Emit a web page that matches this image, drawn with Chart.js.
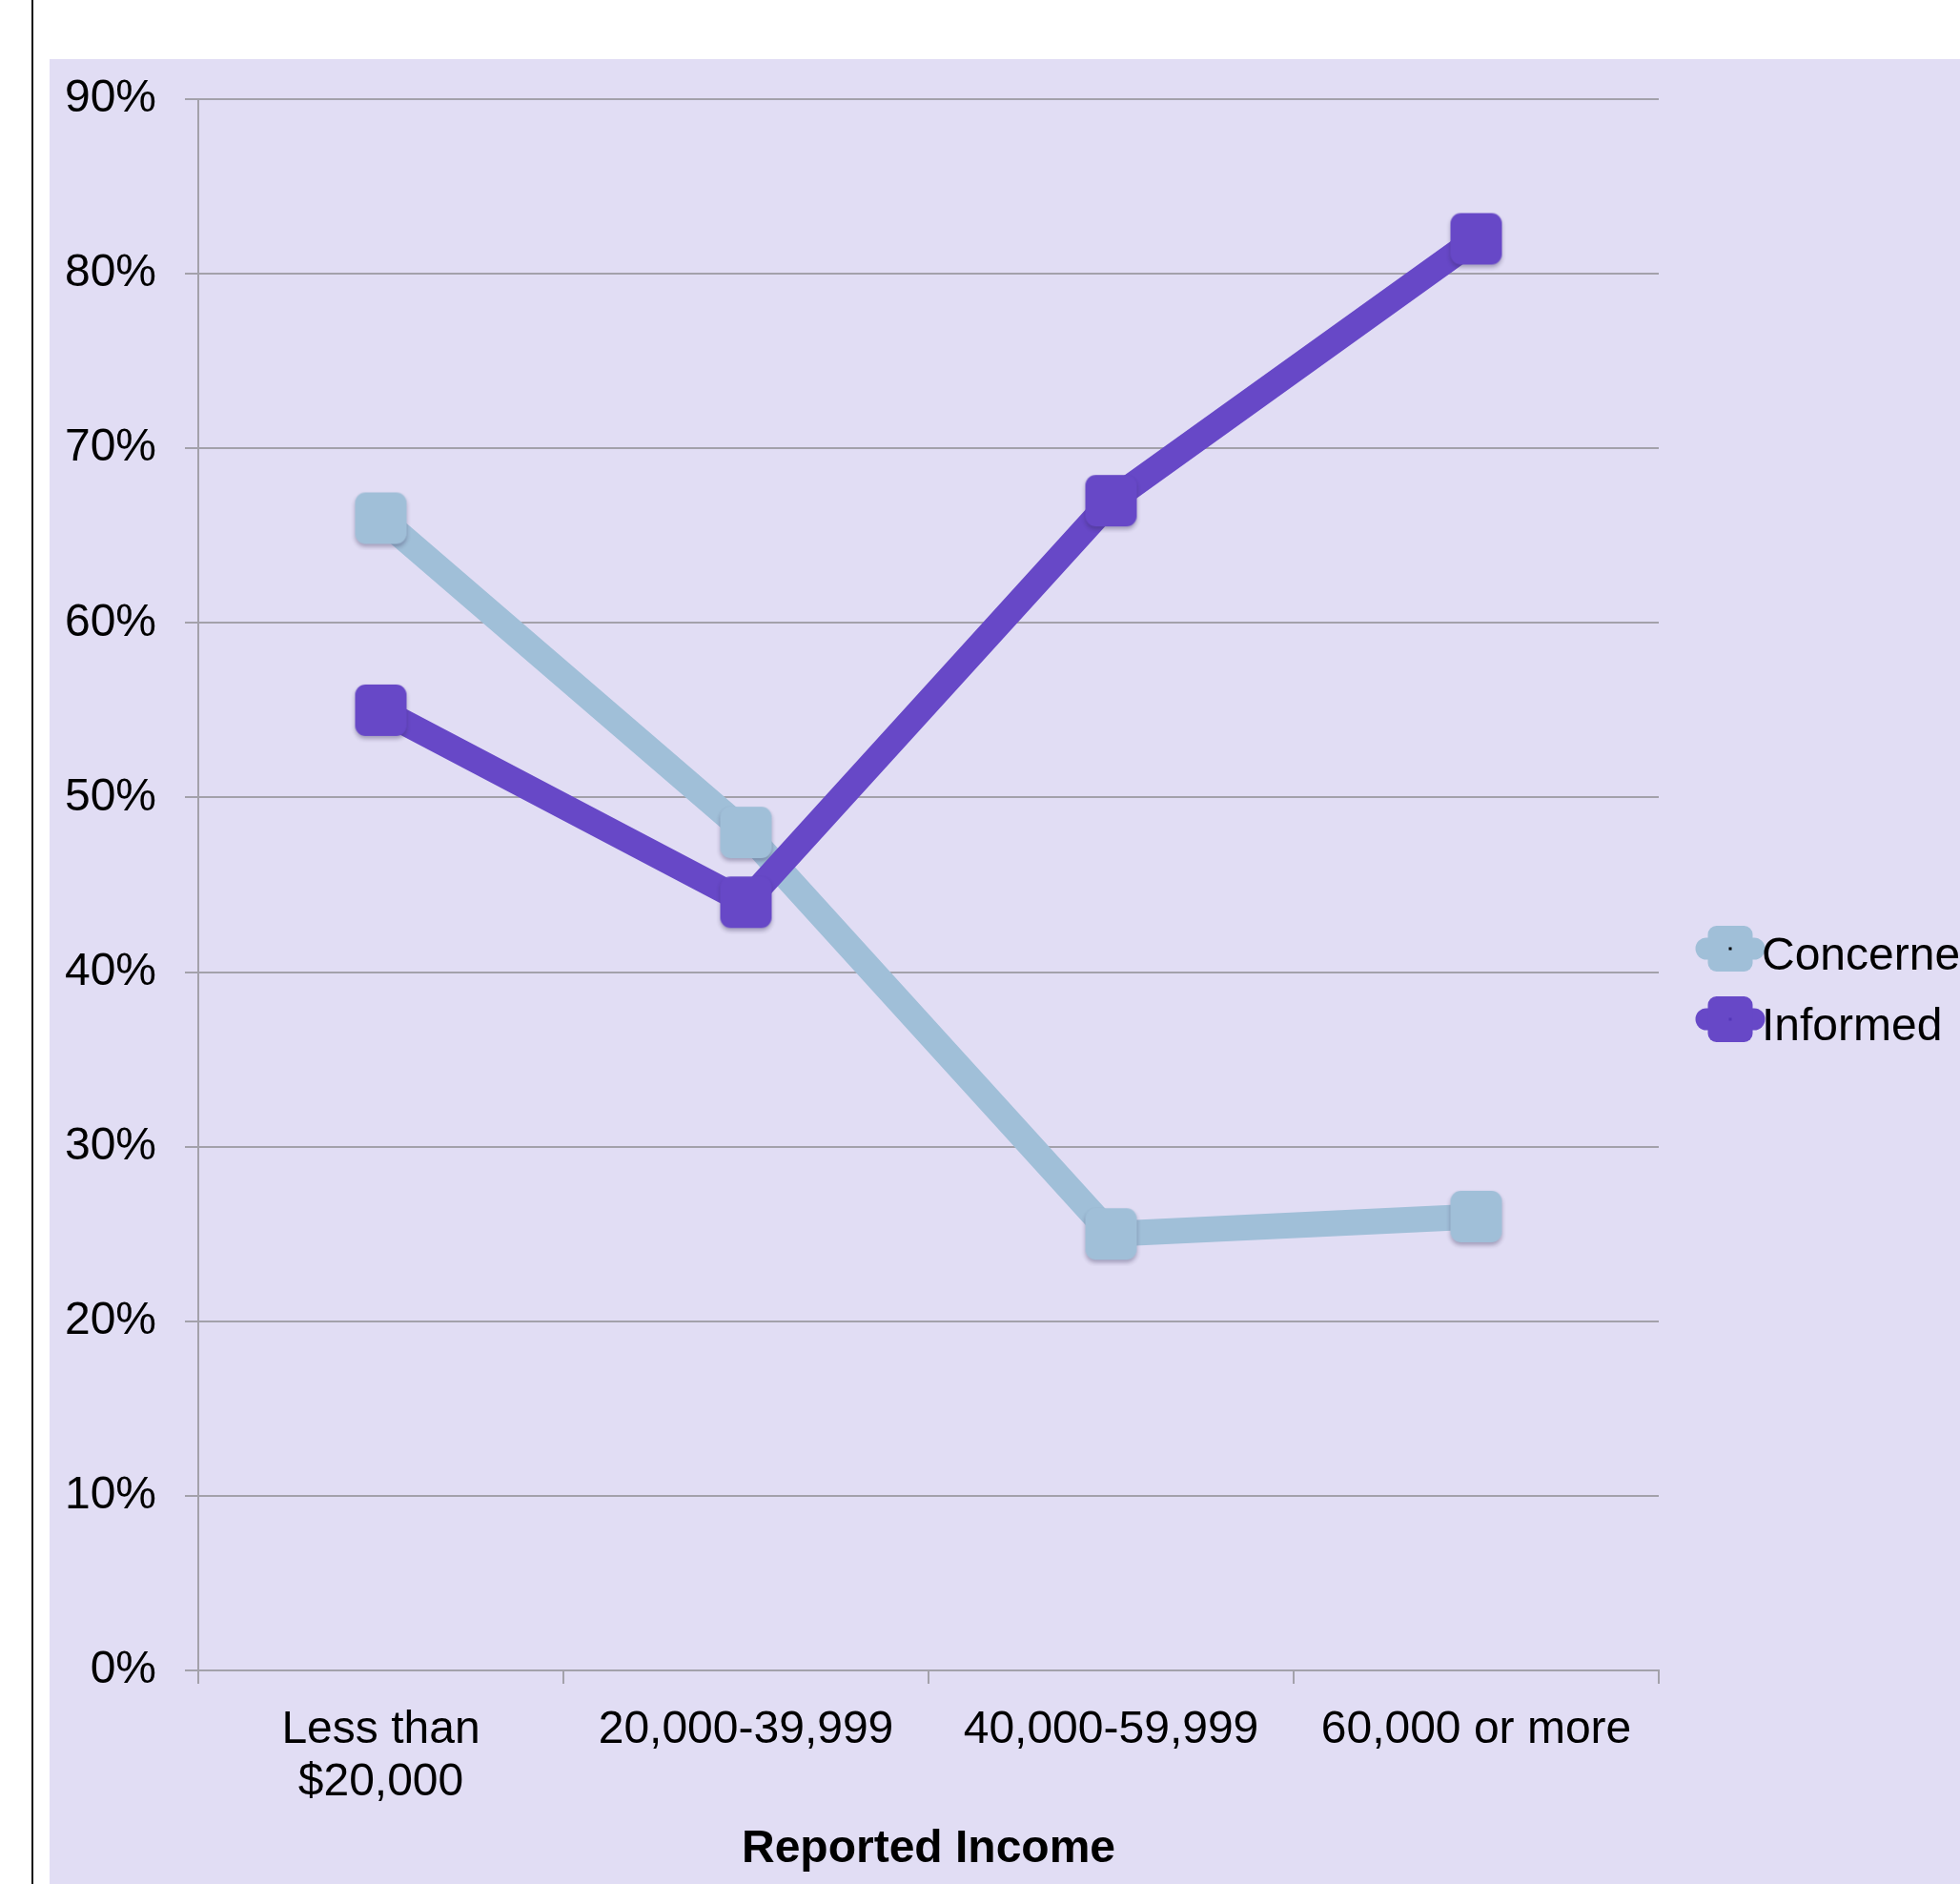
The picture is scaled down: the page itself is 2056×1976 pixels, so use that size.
<!DOCTYPE html>
<html>
<head>
<meta charset="utf-8">
<script src="https://cdn.jsdelivr.net/npm/chart.js@4.4.1/dist/chart.umd.min.js"></script>
<style>
  html, body { margin: 0; padding: 0; background: #fff; width: 2056px; height: 1976px; overflow: hidden; }
  #edge { position: absolute; left: 33px; top: 0; width: 2px; height: 1976px; background: #111; }
  #box { position: absolute; left: 52px; top: 62px; width: 2004px; height: 1914px; background: #e1ddf4; }
</style>
</head>
<body>
<div id="edge"></div>
<div id="box"><canvas id="chart" width="2004" height="1914"></canvas></div>
<script>
// data
const categories = [['Less than', '$20,000'], '20,000-39,999', '40,000-59,999', '60,000 or more'];
const seriesNames = ['Concerned', 'Informed'];
const concerned = [66, 48, 25, 26];
const informed = [55, 44, 67, 82];
const yMax = 90;
const yStep = 10;

const FONT = '"Liberation Sans", Arial, Helvetica, sans-serif';
const gridColor = '#a3a1aa';
const blue = '#a0bfd8';
const purple = '#6748c7';

// rounded square marker with a soft shadow
function markerImage(color) {
  const c = document.createElement('canvas');
  c.width = 68;
  c.height = 68;
  const g = c.getContext('2d');
  g.shadowColor = 'rgba(50,40,80,0.35)';
  g.shadowBlur = 4;
  g.shadowOffsetX = 0;
  g.shadowOffsetY = 3;
  g.fillStyle = color;
  g.beginPath();
  g.roundRect(7, 7, 54, 54, 11);
  g.fill();
  return c;
}

const dotColors = ['#000', '#5536b8'];

// legend on the right, drawn like the original (line + square + small dot)
const sideLegend = {
  id: 'sideLegend',
  afterDraw(chart) {
    const ctx = chart.ctx;
    const cx = 1763, y0 = 933, gap = 74;
    chart.data.datasets.forEach((ds, i) => {
      const y = y0 + i * gap;
      ctx.save();
      ctx.strokeStyle = ds.borderColor;
      ctx.lineWidth = 23;
      ctx.lineCap = 'round';
      ctx.beginPath();
      ctx.moveTo(cx - 25, y);
      ctx.lineTo(cx + 25, y);
      ctx.stroke();
      ctx.fillStyle = ds.borderColor;
      ctx.beginPath();
      ctx.roundRect(cx - 23.5, y - 24, 47, 48, 9);
      ctx.fill();
      ctx.fillStyle = dotColors[i];
      ctx.fillRect(cx - 1.5, y - 1.5, 3, 3);
      ctx.fillStyle = '#000';
      ctx.font = '48px ' + FONT;
      ctx.textBaseline = 'middle';
      ctx.textAlign = 'left';
      ctx.fillText(ds.label, 1796, y + 9);
      ctx.restore();
    });
  }
};

new Chart(document.getElementById('chart'), {
  type: 'line',
  data: {
    labels: categories,
    datasets: [
      {
        label: seriesNames[0],
        data: concerned,
        borderColor: blue,
        backgroundColor: blue,
        borderWidth: 27,
        pointStyle: markerImage(blue),
        pointRadius: 27,
        tension: 0,
        order: 2
      },
      {
        label: seriesNames[1],
        data: informed,
        borderColor: purple,
        backgroundColor: purple,
        borderWidth: 27,
        pointStyle: markerImage(purple),
        pointRadius: 27,
        tension: 0,
        order: 1
      }
    ]
  },
  options: {
    responsive: false,
    devicePixelRatio: 1,
    animation: false,
    layout: { autoPadding: false, padding: { top: 42, right: 316, left: 0, bottom: 0 } },
    plugins: {
      legend: { display: false },
      tooltip: { enabled: false }
    },
    scales: {
      x: {
        offset: true,
        grid: { display: true, drawOnChartArea: false, drawTicks: true, tickLength: 14, offset: true, color: gridColor, lineWidth: 2 },
        border: { display: true, color: gridColor, width: 2 },
        ticks: { color: '#000', font: { size: 48, family: FONT, lineHeight: 1.15 }, padding: 21, maxRotation: 0, autoSkip: false },
        title: { display: true, text: 'Reported Income', color: '#000', font: { size: 48, weight: 'bold', family: FONT }, padding: { top: 0, bottom: 7 } },
        afterFit(scale) {
          scale.height = 224;
          scale.paddingLeft = 0;
          scale.paddingRight = 0;
        }
      },
      y: {
        min: 0,
        max: yMax,
        ticks: { stepSize: yStep, callback: v => v + '%', color: '#000', font: { size: 48, family: FONT }, padding: 30 },
        grid: { color: gridColor, lineWidth: 2, tickLength: 14, drawTicks: true },
        border: { display: true, color: gridColor, width: 2 },
        afterFit(scale) {
          scale.width = 156;
          scale.paddingTop = 0;
          scale.paddingBottom = 0;
        }
      }
    }
  },
  plugins: [sideLegend]
});
</script>
</body>
</html>
